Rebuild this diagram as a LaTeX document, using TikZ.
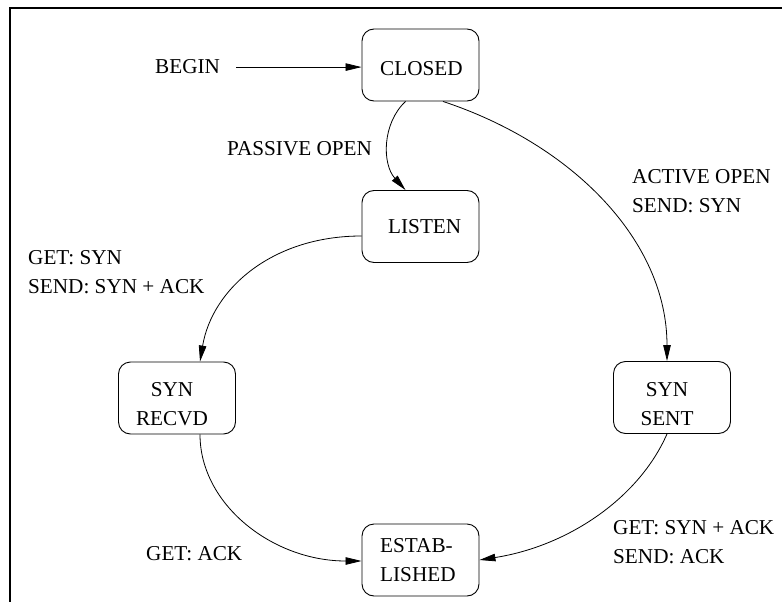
\documentclass[tikz,border=0pt]{standalone}
\usepackage{fontspec}
\setmainfont{Liberation Serif}
\usetikzlibrary{arrows.meta}
\begin{document}
\begin{tikzpicture}[x=1pt,y=-1pt,
  font=\fontsize{21.2pt}{29pt}\selectfont,
  stbox/.style={draw, line width=0.9pt, rounded corners=12pt,
    minimum width=117pt, minimum height=72pt, inner sep=0pt},
  lbl/.style={inner sep=0pt},
  arr/.style={line width=0.8pt, -{Triangle[length=16pt,width=7.5pt]}}]
\useasboundingbox (0,0) rectangle (782,602);
\begin{scope}
  \clip (0,0) rectangle (782,602);
  % outer frame (only its left and top sides fall inside the page)
  \draw[line width=2.2pt] (9.7,7.8) rectangle (820,640);
\end{scope}

% states
\node[stbox] (closed)   at (420.5,65)  {};
\node[stbox] (listen)   at (420.5,226.5) {};
\node[stbox] (synrecvd) at (177,398)   {};
\node[stbox] (synsent)  at (672,397.5) {};
\node[stbox] (estab)    at (420.5,560) {};

% state names
\node[lbl, anchor=base west] (closedtxt) at (380,75)  {CLOSED};
\node[lbl, anchor=base west] (listentxt) at (388,233) {LISTEN};
\node[lbl, anchor=north, align=center] (synrecvdtxt) at (172,382) {SYN\\RECVD};
\node[lbl, anchor=north, align=center] (synsenttxt)  at (667,382) {SYN\\SENT};
\node[lbl, anchor=north west, align=left] (estabtxt) at (380,538) {ESTAB-\\LISHED};

% transition labels
\node[lbl, anchor=base west] (begin) at (155,74) {BEGIN};
\node[lbl, anchor=base west] (passive) at (227,155) {PASSIVE OPEN};
\node[lbl, anchor=north west, align=left] (active) at (632,169) {ACTIVE OPEN\\SEND: SYN};
\node[lbl, anchor=north west, align=left] (getsyn) at (28,250) {GET: SYN\\SEND: SYN + ACK};
\node[lbl, anchor=base west] (getack) at (146,560) {GET: ACK};
\node[lbl, anchor=north west, align=left] (getsynack) at (613,520) {GET: SYN + ACK\\SEND: ACK};

% transitions
\draw[arr] ([xshift=16pt]begin.east) -- (begin.east -| closed.west);
\draw[arr] ([xshift=-15pt]closed.south)
  .. controls +(-23.5,22) and +(-23.5,-26) .. ([xshift=-15pt]listen.north);
\draw[arr] ([xshift=22.5pt]closed.south)
  .. controls +(130,43) and +(0,-120) .. ([xshift=-5pt]synsent.north);
\draw[arr] ([yshift=-9.5pt]listen.west)
  .. controls +(-90,0) and +(12,-72) .. ([xshift=23pt]synrecvd.north);
\draw[arr] ([xshift=23pt]synrecvd.south)
  .. controls +(0,70) and +(-89,0) .. ([yshift=-1pt]estab.west);
\draw[arr] ([xshift=-5pt]synsent.south)
  .. controls +(-28,64) and +(89,-14) .. (estab.east);
\end{tikzpicture}
\end{document}
